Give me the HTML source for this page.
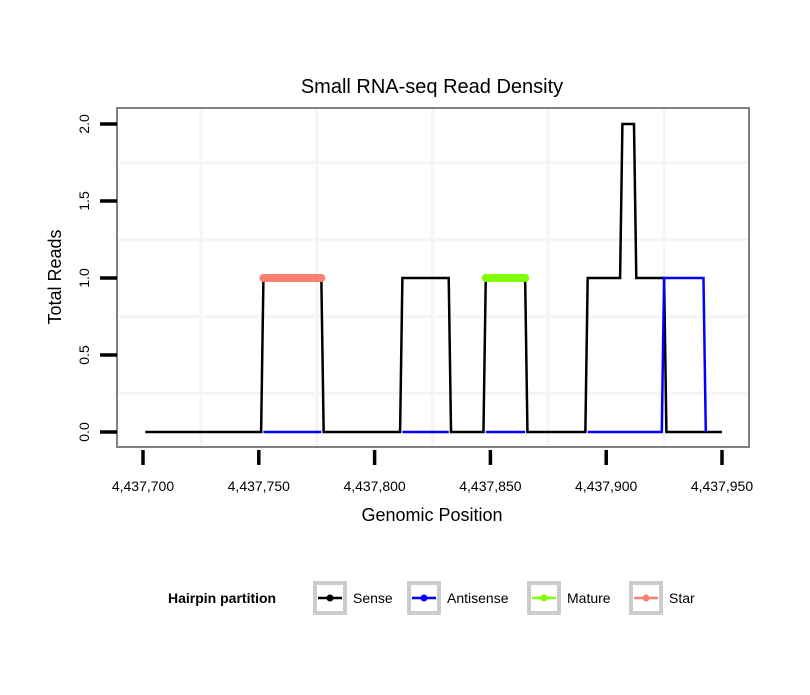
<!DOCTYPE html>
<html><head><meta charset="utf-8"><style>
body{margin:0;background:#fff;}
svg text{font-family:"Liberation Sans",sans-serif;}
</style></head><body>
<svg width="810" height="690" viewBox="0 0 810 690" xmlns="http://www.w3.org/2000/svg">
<rect x="0" y="0" width="810" height="690" fill="#fff"/>
<text x="432" y="93" font-size="20" text-anchor="middle">Small RNA-seq Read Density</text>
<g id="grid"></g>
<g id="series"></g>
<rect x="117" y="108" width="632" height="339" fill="none" stroke="#808080" stroke-width="2"/>
<g id="axes"></g>
<text x="432" y="521" font-size="18" text-anchor="middle">Genomic Position</text>
<text transform="translate(61,277) rotate(-90)" font-size="18" text-anchor="middle">Total Reads</text>
<g>
<text x="168" y="603" font-size="14" font-weight="bold">Hairpin partition</text>
<g id="legend"></g>
</g>
</svg>
<script>
const xTicks=[4437700,4437750,4437800,4437850,4437900,4437950];
const xTickLabels=["4,437,700","4,437,750","4,437,800","4,437,850","4,437,900","4,437,950"];
const yTicks=[0,0.5,1,1.5,2];
const yTickLabels=["0.0","0.5","1.0","1.5","2.0"];
const senseX=[4437701,4437751,4437752,4437777,4437778,4437811,4437812,4437832,4437833,4437847,4437848,4437865,4437866,4437891,4437892,4437906,4437907,4437912,4437913,4437925,4437926,4437950];
const senseY=[0,0,1,1,0,0,1,1,0,0,1,1,0,0,1,1,2,2,1,1,0,0];
const antiX=[4437752,4437777,null,4437812,4437832,null,4437848,4437865,null,4437892,4437924,4437925,4437942,4437943];
const antiY=[0,0,null,0,0,null,0,0,null,0,0,1,1,0];
const starRange=[4437752,4437777];
const matureRange=[4437848,4437865];
const legendLabels=["Sense","Antisense","Mature","Star"];
const legendColors=["#000000","#0000ff","#7fff00","#fa8072"];

const NS="http://www.w3.org/2000/svg";
const X=v=>143+(v-4437700)*(722-143)/250;
const Y=v=>432-v*154;
function mk(t,a,p){const e=document.createElementNS(NS,t);for(const k in a)e.setAttribute(k,a[k]);p.appendChild(e);return e;}
const grid=document.getElementById('grid'),ser=document.getElementById('series'),ax=document.getElementById('axes'),lg=document.getElementById('legend');
for(let i=0;i<xTicks.length;i++){
  const gx=X(xTicks[i])+(X(xTicks[1])-X(xTicks[0]))/2;
  if(gx<749){const l=mk('line',{x1:gx,x2:gx,y1:108,y2:447,stroke:'#f5f5f5','stroke-width':3},grid);
  
  }
}
for(let i=0;i<yTicks.length;i++){
  const gy=Y(yTicks[i]+0.25);
  if(gy>110){const l=mk('line',{x1:117,x2:749,y1:gy,y2:gy,stroke:'#f5f5f5','stroke-width':3},grid);
  
  }
}
function path(xs,ys){let d='',pen=false;for(let i=0;i<xs.length;i++){if(xs[i]===null){pen=false;continue;}d+=(pen?'L':'M')+X(xs[i])+','+Y(ys[i]);pen=true;}return d;}
const s=mk('path',{d:path(senseX,senseY),fill:'none',stroke:'#000','stroke-width':2.5},ser);


const a=mk('path',{d:path(antiX,antiY),fill:'none',stroke:'#0000ff','stroke-width':2.5},ser);


const st=mk('line',{x1:X(starRange[0]),x2:X(starRange[1]),y1:Y(1),y2:Y(1),stroke:'#fa8072','stroke-width':8,'stroke-linecap':'round'},ser);


const mt=mk('line',{x1:X(matureRange[0]),x2:X(matureRange[1]),y1:Y(1),y2:Y(1),stroke:'#7fff00','stroke-width':8,'stroke-linecap':'round'},ser);


for(let i=0;i<xTicks.length;i++){
  const x=X(xTicks[i]);
  const t=mk('line',{x1:x,x2:x,y1:450,y2:465,stroke:'#000','stroke-width':3.5},ax);
  
  
  const tx=mk('text',{x:x,y:491,'font-size':14,'text-anchor':'middle'},ax);tx.textContent=xTickLabels[i];
  
  
}
for(let i=0;i<yTicks.length;i++){
  const y=Y(yTicks[i]);
  const t=mk('line',{x1:100,x2:117,y1:y,y2:y,stroke:'#000','stroke-width':3.5},ax);
  
  
  const tx=mk('text',{transform:`translate(89,${y}) rotate(-90)`,'font-size':14,'text-anchor':'middle'},ax);tx.textContent=yTickLabels[i];
  
  
}
const keyX=[313,407,527,629];
for(let i=0;i<legendLabels.length;i++){
  const g=mk('g',{},lg);
  
  
  const kx=keyX[i];
  mk('rect',{x:kx+2,y:583,width:30,height:30,fill:'#fff',stroke:'#cccccc','stroke-width':4},g);
  mk('line',{x1:kx+5,x2:kx+29,y1:598,y2:598,stroke:legendColors[i],'stroke-width':2.5},g);
  mk('circle',{cx:kx+17,cy:598,r:3.5,fill:legendColors[i]},g);
  const t=mk('text',{x:kx+40,y:603,'font-size':14},g);t.textContent=legendLabels[i];
}
</script>
</body></html>
